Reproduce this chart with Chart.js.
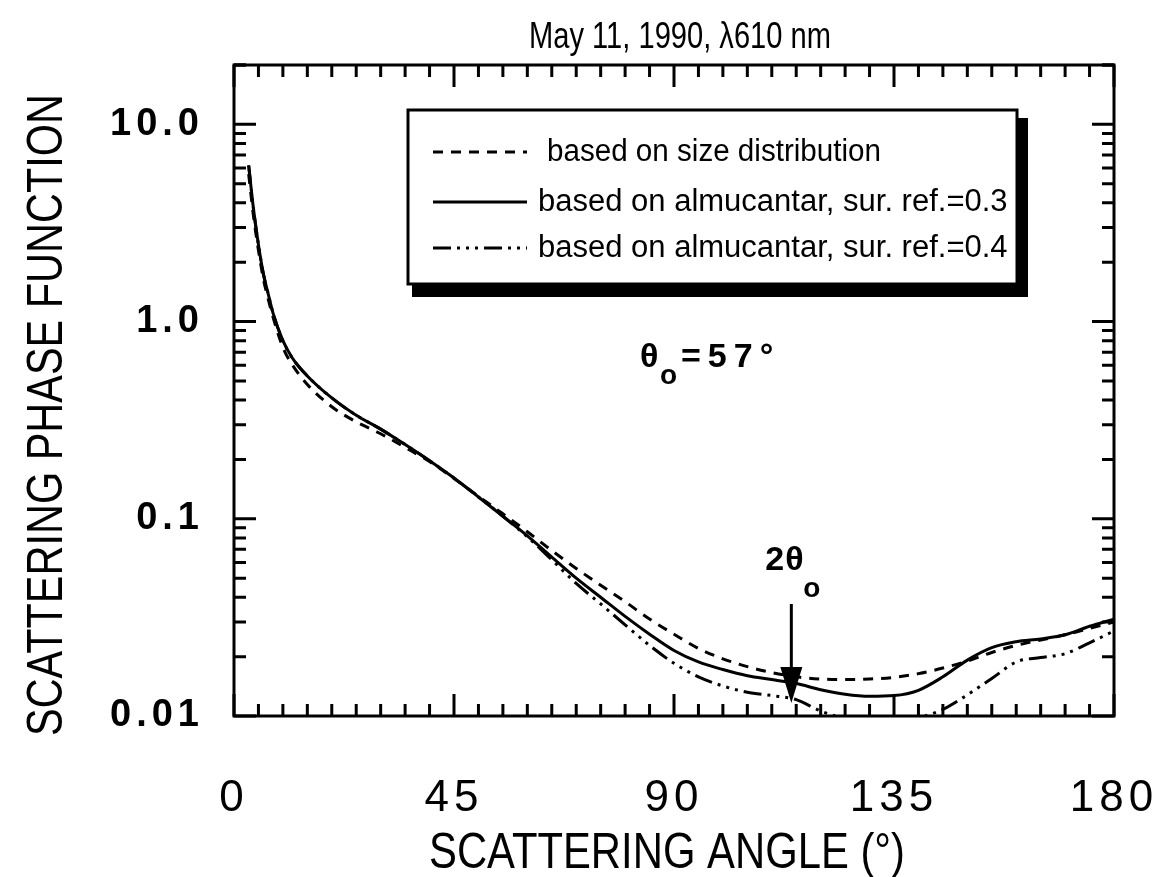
<!DOCTYPE html>
<html>
<head>
<meta charset="utf-8">
<script src="https://cdn.jsdelivr.net/npm/chart.js@4/dist/chart.umd.min.js"></script>
<style>
  html, body { margin: 0; padding: 0; background: #fff; }
  #wrap { width: 1157px; height: 877px; }
</style>
</head>
<body>
<div id="wrap"><canvas id="c" width="1157" height="877"></canvas></div>
<script>
// Scattering angle (degrees)
const angles = [3, 4, 5, 6, 7, 8, 10, 12, 15, 20, 25, 30, 35, 40, 45, 50, 55, 60, 65, 70, 75, 80, 85, 90,
  95, 100, 105, 110, 115, 120, 125, 130, 135, 140, 145, 150, 155, 160, 165, 170, 175, 180];

// Phase function computed from the retrieved size distribution
const sizeDistribution = [5.6, 3.4, 2.3, 1.65, 1.3, 1.05, 0.74, 0.6, 0.48, 0.37, 0.31, 0.27, 0.23, 0.195, 0.16,
  0.13, 0.106, 0.086, 0.069, 0.056, 0.046, 0.038, 0.031, 0.026,
  0.022, 0.0195, 0.0178, 0.0166, 0.0158, 0.0154, 0.0153, 0.0154, 0.0157, 0.0164, 0.0175, 0.019, 0.021, 0.0228, 0.0243, 0.0258, 0.0278, 0.030];

// Phase function from almucantar radiances, surface reflectance 0.3
const almucantar03 = [6.2, 3.7, 2.45, 1.75, 1.38, 1.1, 0.8, 0.65, 0.53, 0.41, 0.335, 0.285, 0.238, 0.197, 0.161,
  0.129, 0.103, 0.082, 0.064, 0.050, 0.040, 0.032, 0.026, 0.0215,
  0.0188, 0.0172, 0.016, 0.0153, 0.0146, 0.0136, 0.0129, 0.0126, 0.0127, 0.0135, 0.0158, 0.0192, 0.0222, 0.0238, 0.0246, 0.0258, 0.0285, 0.031];

// Phase function from almucantar radiances, surface reflectance 0.4
const almucantar04 = [6.2, 3.7, 2.45, 1.75, 1.38, 1.1, 0.8, 0.65, 0.53, 0.41, 0.335, 0.285, 0.238, 0.197, 0.161,
  0.129, 0.103, 0.081, 0.062, 0.047, 0.037, 0.029, 0.0228, 0.0185,
  0.0158, 0.0142, 0.0132, 0.0127, 0.0121, 0.0106, 0.0097, 0.0094, 0.0094, 0.0098, 0.0108, 0.0128, 0.0155, 0.0188, 0.0198, 0.0207, 0.0235, 0.027];

const xTickValues = [0, 45, 90, 135, 180];
const yTickValues = [0.01, 0.1, 1, 10];
const yTickLabels = ['0.01', '0.1', '1.0', '10.0'];

const seriesLabels = [
  'based on size distribution',
  'based on almucantar, sur. ref.=0.3',
  'based on almucantar, sur. ref.=0.4'
];

const solarZenith = 57;          // θo, degrees
const arrowAngle = 2 * solarZenith;

const SANS = '"Liberation Sans", Arial, Helvetica, sans-serif';

function toPoints(vals) {
  return angles.map((a, i) => ({ x: a, y: vals[i] }));
}

const dashStyles = [[10, 8], [], [18, 6, 3, 6, 3, 6, 3, 6]];

// Inward ticks on all four sides plus the frame
const framePlugin = {
  id: 'frame',
  beforeDraw(chart) {
    chart.ctx.letterSpacing = '5px';
  },
  afterDraw(chart) {
    const { ctx, chartArea: a, scales: { x, y } } = chart;
    ctx.save();
    ctx.letterSpacing = '0px';
    ctx.strokeStyle = '#000';
    ctx.lineCap = 'butt';
    ctx.lineWidth = 3;
    ctx.strokeRect(a.left, a.top, a.right - a.left, a.bottom - a.top);

    for (let d = 0; d <= 180; d += 5) {
      const px = x.getPixelForValue(d);
      const len = d % 45 === 0 ? 22 : 12;
      ctx.beginPath();
      ctx.moveTo(px, a.bottom); ctx.lineTo(px, a.bottom - len);
      ctx.moveTo(px, a.top); ctx.lineTo(px, a.top + len);
      ctx.stroke();
    }
    const yv = [];
    for (let e = -2; e <= 1; e++) {
      for (let m = 1; m <= 9; m++) yv.push([m * Math.pow(10, e), m === 1]);
    }
    yv.push([20, false]);
    yv.forEach(([v, major]) => {
      if (v < y.min || v > y.max) return;
      const py = y.getPixelForValue(v);
      const len = major ? 22 : 12;
      ctx.beginPath();
      ctx.moveTo(a.left, py); ctx.lineTo(a.left + len, py);
      ctx.moveTo(a.right, py); ctx.lineTo(a.right - len, py);
      ctx.stroke();
    });
    ctx.restore();
  }
};

// Title, axis titles and annotations
const textPlugin = {
  id: 'texts',
  afterDraw(chart) {
    const { ctx, scales: { x } } = chart;
    ctx.save();
    ctx.letterSpacing = '0px';
    ctx.fillStyle = '#000';

    // Title
    ctx.font = `37px ${SANS}`;
    ctx.textAlign = 'center';
    ctx.textBaseline = 'alphabetic';
    ctx.fillText('May 11, 1990, λ610 nm', 680, 48, 302);

    // X axis title
    ctx.font = `50px ${SANS}`;
    ctx.fillText('SCATTERING ANGLE (°)', 667, 868, 476);

    // Y axis title
    ctx.save();
    ctx.translate(62, 415);
    ctx.rotate(-Math.PI / 2);
    ctx.fillText('SCATTERING PHASE FUNCTION', 0, 0, 642);
    ctx.restore();

    // θo annotation
    ctx.textAlign = 'left';
    ctx.font = `bold 34px ${SANS}`;
    ctx.fillText('θ', 640, 367);
    ctx.font = `bold 28px ${SANS}`;
    ctx.fillText('o', 660, 384);
    ctx.font = `bold 34px ${SANS}`;
    ctx.letterSpacing = '7px';
    ctx.fillText('=' + solarZenith + '°', 681, 367);
    ctx.letterSpacing = '1px';

    // 2θo annotation with arrow
    const ax = x.getPixelForValue(arrowAngle);
    ctx.fillText('2θ', ax - 26, 570);
    ctx.font = `bold 28px ${SANS}`;
    ctx.fillText('o', ax + 12, 597);
    ctx.letterSpacing = '0px';
    ctx.strokeStyle = '#000';
    ctx.lineWidth = 3;
    ctx.beginPath();
    ctx.moveTo(ax, 604); ctx.lineTo(ax, 672);
    ctx.stroke();
    ctx.beginPath();
    ctx.moveTo(ax - 11, 667); ctx.lineTo(ax + 11, 667); ctx.lineTo(ax, 703);
    ctx.closePath();
    ctx.fill();

    ctx.restore();
  }
};

// Framed key with a drop shadow
const keyPlugin = {
  id: 'key',
  afterDraw(chart) {
    const { ctx } = chart;
    const L = 408, T = 110, R = 1017, B = 284;
    ctx.save();
    ctx.letterSpacing = '0px';
    ctx.fillStyle = '#000';
    ctx.fillRect(L + 4, B, R - L + 6, 13);
    ctx.fillRect(R, T + 8, 11, B - T + 5);
    ctx.fillStyle = '#fff';
    ctx.fillRect(L, T, R - L, B - T);
    ctx.strokeStyle = '#000';
    ctx.lineWidth = 3;
    ctx.strokeRect(L, T, R - L, B - T);

    const rows = [152, 202, 248];
    const textX = [547, 538, 538];
    chart.data.datasets.forEach((ds, i) => {
      ctx.setLineDash(ds.borderDash || []);
      ctx.lineWidth = 3;
      ctx.beginPath();
      ctx.moveTo(433, rows[i]);
      ctx.lineTo(527, rows[i]);
      ctx.stroke();
      ctx.setLineDash([]);
      ctx.fillStyle = '#000';
      ctx.font = `31px ${SANS}`;
      ctx.textAlign = 'left';
      ctx.textBaseline = 'middle';
      const w = i === 0 ? 334 : 474;
      ctx.fillText(ds.label, textX[i], rows[i], w);
    });
    ctx.restore();
  }
};

new Chart(document.getElementById('c'), {
  type: 'line',
  data: {
    datasets: [sizeDistribution, almucantar03, almucantar04].map((vals, i) => ({
      label: seriesLabels[i],
      data: toPoints(vals),
      borderColor: '#000',
      backgroundColor: '#000',
      borderWidth: 3,
      borderDash: dashStyles[i],
      pointRadius: 0,
      fill: false,
      cubicInterpolationMode: 'monotone'
    }))
  },
  options: {
    responsive: false,
    animation: false,
    devicePixelRatio: 1,
    layout: { padding: { top: 65, right: 43, left: 0, bottom: 0 } },
    plugins: {
      legend: { display: false },
      tooltip: { enabled: false },
      title: { display: false }
    },
    scales: {
      x: {
        type: 'linear',
        min: 0,
        max: 180,
        afterFit: s => { s.height = 161; s.paddingLeft = 0; s.paddingRight = 0; },
        afterBuildTicks: s => { s.ticks = xTickValues.map(v => ({ value: v })); },
        grid: { display: false, drawTicks: false },
        border: { display: false },
        ticks: {
          color: '#000',
          font: { family: SANS, size: 44 },
          padding: 56,
          maxRotation: 0,
          autoSkip: false
        }
      },
      y: {
        type: 'logarithmic',
        min: 0.01,
        max: 20,
        afterFit: s => { s.width = 234; s.paddingTop = 0; s.paddingBottom = 0; },
        afterBuildTicks: s => { s.ticks = yTickValues.map(v => ({ value: v })); },
        grid: { display: false, drawTicks: false },
        border: { display: false },
        ticks: {
          color: '#000',
          font: { family: SANS, size: 38, weight: 'bold' },
          padding: 30,
          callback: v => {
            const i = yTickValues.findIndex(t => Math.abs(t - v) / t < 1e-6);
            return i >= 0 ? yTickLabels[i] : '';
          }
        }
      }
    }
  },
  plugins: [framePlugin, textPlugin, keyPlugin]
});
</script>
</body>
</html>
